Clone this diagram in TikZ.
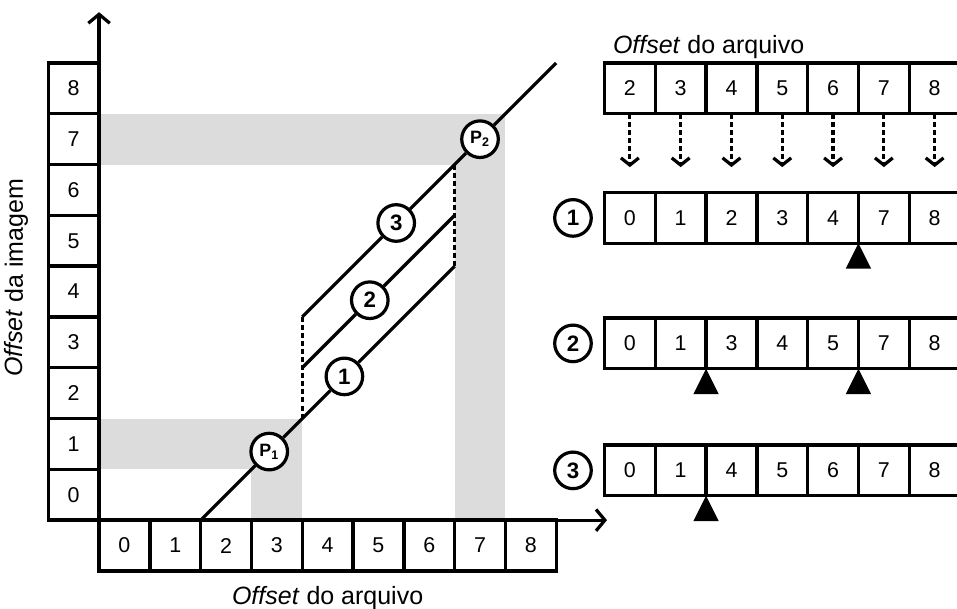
\documentclass[tikz,border=0pt]{standalone}
\usepackage{fontspec}
\setmainfont{Liberation Sans}
\usepackage{tikz}
\usetikzlibrary{arrows.meta,positioning,calc}
\definecolor{band}{RGB}{220,220,220}

\begin{document}
\begin{tikzpicture}[x=1cm,y=1cm,font=\fontsize{12}{14}\selectfont,
  cell/.style={draw,line width=1.9pt,minimum size=1cm,inner sep=0pt,outer sep=0pt},
  numcirc/.style={circle,draw,fill=white,line width=1.8pt,minimum size=0.72cm,inner sep=0pt,font=\fontsize{12.5}{14}\selectfont\bfseries},
  pcirc/.style={numcirc,font=\fontsize{10}{11}\selectfont\bfseries},
  axis/.style={line width=1.8pt,-{Straight Barb[length=5pt,width=12pt]}},
  seg/.style={line width=1.8pt},
  jump/.style={line width=1.8pt,dash pattern=on 2.8pt off 1.7pt},
  copyarr/.style={jump,-{Straight Barb[length=4pt,width=10pt]}},
  lbl/.style={font=\fontsize{14}{16}\selectfont}]
\useasboundingbox (-1.95,-1.73) rectangle (16.89,10.24);
% shaded row/column of P1 and P2
\fill[band] (0,1) rectangle (4,2);
\fill[band] (3,0) rectangle (4,1);
\fill[band] (0,7) rectangle (8,8);
\fill[band] (7,0) rectangle (8,7);
% axes
\coordinate (o) at (0,0);
\coordinate (ytip) at (0,10);
\coordinate (xtip) at (10,0);
\draw[axis] (o) -- (ytip);
\draw[axis] (o) -- (xtip);
\foreach \i in {0,...,8}{
  \node[cell] (img\i) at (-0.5,\i+0.5) {\i};
  \node[cell] (arq\i) at (\i+0.5,-0.5) {\i};
}
\node[lbl,anchor=base] (xlabel) at (4.5,-1.66) {\textit{Offset} do arquivo};
\node[lbl,rotate=90,anchor=base] (ylabel) at (-1.5,4.77) {\textit{Offset} da imagem};
% mapping lines
\coordinate (s) at (2,0);
\coordinate (a1) at (4,2); \coordinate (b1) at (7,5);
\coordinate (a2) at (4,3); \coordinate (b2) at (7,6);
\coordinate (a3) at (4,4); \coordinate (b3) at (7,7);
\coordinate (e) at (9,9);
\node[pcirc] (p1) at (3.35,1.35) {P\textsubscript{1}};
\node[pcirc] (p2) at (7.5,7.5) {P\textsubscript{2}};
\node[numcirc] (c1) at (4.83,2.83) {1};
\node[numcirc] (c2) at (5.33,4.33) {2};
\node[numcirc] (c3) at (5.85,5.85) {3};
\draw[seg] (s) -- (p1) -- (a1) -- (c1) -- (b1);
\draw[seg] (a2) -- (c2) -- (b2);
\draw[seg] (a3) -- (c3) -- (b3) -- (p2) -- (e);
\draw[jump] (a1) -- (a3);
\draw[jump] (b1) -- (b3);
% file offsets and the three cases
\node[lbl,anchor=base] (toplbl) at (12.0,9.19) {\textit{Offset} do arquivo};
\foreach \v [count=\k from 0] in {2,...,8}{
  \node[cell] (f\k) at (10.45+\k,8.5) {\v};
  \coordinate (d\k) at (10.45+\k,6.95);
  \draw[copyarr] (f\k.south) -- (d\k);
}
\foreach \row/\y/\vals in {1/5.95/{0,1,2,3,4,7,8},2/3.48/{0,1,3,4,5,7,8},3/0.98/{0,1,4,5,6,7,8}}{
  \node[numcirc] (n\row) at (9.33,\y) {\row};
  \foreach \v [count=\k from 0] in \vals {\node[cell] (r\row-\k) at (10.45+\k,\y) {\v};}
}
% gaps
\foreach \row/\k in {1/4,2/1,2/4,3/1}{
  \fill (r\row-\k.south east) -- ++(-0.25,-0.5) -- ++(0.5,0) -- cycle;
}
\end{tikzpicture}
\end{document}
